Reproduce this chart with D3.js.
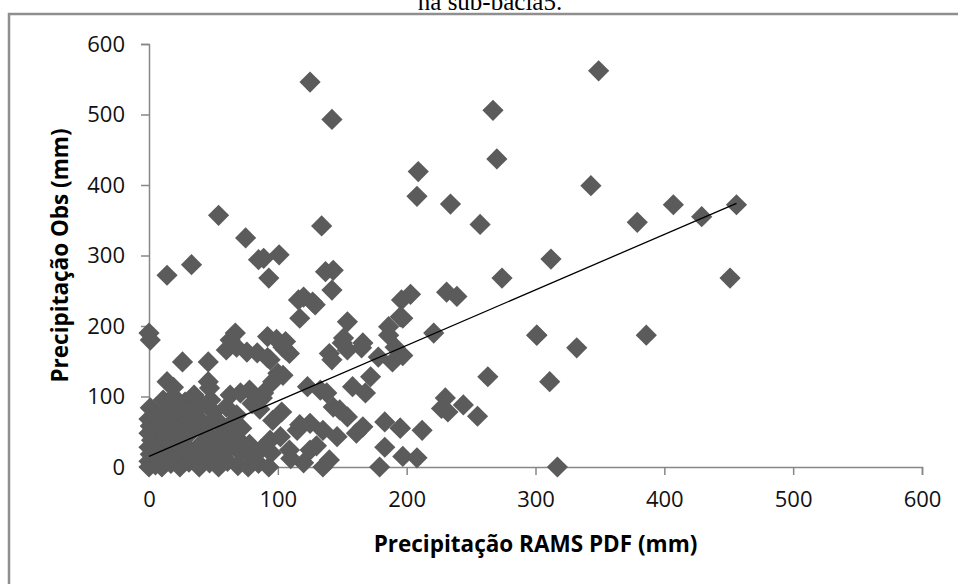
<!DOCTYPE html>
<html>
<head>
<meta charset="utf-8">
<script src="https://cdn.jsdelivr.net/npm/d3@7"></script>
<style>
  body { margin: 0; background: #fff; }
  svg { display: block; }
</style>
</head>
<body>
<svg id="drawing_region"></svg>
<script>
const rams = [
    0, 0, 1, 0, 1, 0, 2, 0, 1, 0, 1,
    5, 6, 5, 4, 6, 5,
    10, 11, 9, 12, 10, 13, 11,
    17, 18, 16, 19, 18, 20, 19,
    24, 26, 25, 27, 24, 26, 28,
    31, 33, 32, 34, 30, 35,
    39, 41, 40, 42, 38, 41,
    47, 49, 48, 46, 50, 48,
    54, 56, 55, 57, 53,
    61, 63, 62, 64, 60,
    69, 71, 70, 72, 68,
    77, 79, 78, 80,
    85, 87, 86, 88,
    93, 95, 94, 96,
    102, 109, 115, 120, 125, 125, 135, 135, 146, 103, 110, 130, 140, 117,
    143, 148, 154, 161, 166, 183, 195, 183, 179, 197, 208, 212,
    227, 232, 230, 244, 255,
    123, 133, 158, 172, 168, 104, 138, 100,
    104, 109, 94, 106, 140, 142, 150, 154, 165, 178, 191, 189, 197, 186,
    14, 19, 46, 47, 26, 46, 63, 71, 78, 89, 96,
    60, 68, 76, 84, 92, 67, 63, 92, 99, 106,
    14, 33, 54, 75, 85, 89, 101, 93,
    117, 116, 127, 129, 120, 134, 137, 143, 142, 154, 151, 166,
    196, 203, 195, 186, 221, 231, 239, 197, 195,
    125, 142, 267, 270, 209, 208, 234, 257, 274, 301, 312,
    349, 343, 379, 407, 429, 456, 451,
    301, 332, 386, 311, 317, 263
];
const obs = [
    0, 190, 180, 8, 18, 28, 38, 48, 58, 68, 84,
    3, 15, 25, 42, 55, 70,
    0, 12, 30, 45, 62, 78, 95,
    5, 20, 35, 52, 68, 85, 100,
    0, 14, 28, 40, 58, 75, 92,
    7, 22, 48, 62, 80, 102,
    0, 16, 32, 55, 70, 88,
    6, 24, 42, 60, 78, 95,
    0, 14, 35, 50, 66,
    8, 28, 45, 62, 85,
    2, 20, 38, 55, 74,
    0, 14, 32, 90,
    5, 25, 82, 98,
    0, 20, 38, 66,
    43, 24, 52, 6, 24, 62, 0, 52, 43, 78, 12, 30, 10, 60,
    85, 81, 71, 48, 57, 64, 55, 28, 0, 15, 13, 52,
    83, 78, 98, 88, 72,
    114, 109, 114, 128, 105, 130, 105, 133,
    170, 161, 152, 166, 161, 152, 176, 166, 169, 156, 170, 149, 158, 187,
    121, 113, 149, 112, 149, 121, 102, 105, 109, 105, 121,
    166, 170, 163, 162, 155, 190, 180, 185, 181, 178,
    272, 287, 357, 325, 294, 296, 301, 268,
    211, 237, 234, 230, 241, 342, 277, 279, 251, 206, 183, 176,
    237, 245, 213, 199, 190, 248, 242, 211, 55,
    546, 493, 506, 437, 419, 384, 373, 344, 268, 187, 295,
    562, 399, 347, 372, 355, 372, 268,
    187, 169, 187, 121, 0, 128
];
// fitted trend line, end points
const trendX = [0, 456];
const trendY = [15, 374];

const xTicks = [0, 100, 200, 300, 400, 500, 600];
const yTicks = [0, 100, 200, 300, 400, 500, 600];

const xLabel = 'Precipitação RAMS PDF (mm)';
const yLabel = 'Precipitação Obs (mm)';
const caption = 'na sub-bacia5.';

class ScatterPlot {

    constructor(config, data) {
        this.config = config;
        this.data = data;
        this.init();
    }

    init() {
        let self = this;
        const c = self.config;

        self.svg = d3.select(c.parent)
            .attr('width', c.width)
            .attr('height', c.height);

        // caption line, cut off by the top of the page as in the source
        self.svg.append('text')
            .attr('x', 490)
            .attr('y', 10)
            .attr('text-anchor', 'middle')
            .attr('font-family', '"Liberation Serif", serif')
            .attr('font-size', 25)
            .text(caption);

        // chart frame
        self.svg.append('path')
            .attr('d', `M9,${c.height} V14 H${c.width}`)
            .attr('fill', 'none')
            .attr('stroke', '#8f8f8f')
            .attr('stroke-width', 2.5);

        self.xscale = d3.scaleLinear().domain([0, 600]).range([c.plot.left, c.plot.right]);
        self.yscale = d3.scaleLinear().domain([0, 600]).range([c.plot.bottom, c.plot.top]);

        self.xaxis = d3.axisBottom(self.xscale)
            .tickValues(xTicks)
            .tickSize(8)
            .tickPadding(20);

        self.yaxis = d3.axisLeft(self.yscale)
            .tickValues(yTicks)
            .tickSize(8)
            .tickPadding(16);

        self.xaxis_group = self.svg.append('g')
            .attr('transform', `translate(0, ${c.plot.bottom})`);
        self.yaxis_group = self.svg.append('g')
            .attr('transform', `translate(${c.plot.left}, 0)`);

        self.chart = self.svg.append('g');
    }

    update() {
        this.render();
    }

    render() {
        let self = this;
        const font = '"Open Sans", sans-serif';

        [self.xaxis_group.call(self.xaxis), self.yaxis_group.call(self.yaxis)].forEach(g => {
            g.select('.domain').attr('stroke', '#878787').attr('stroke-width', 1.5);
            g.selectAll('.tick line').attr('stroke', '#878787').attr('stroke-width', 1.5);
            g.selectAll('.tick text')
                .attr('fill', '#111')
                .attr('font-family', font)
                .attr('font-size', 22);
        });
        self.xaxis_group.selectAll('.tick text').attr('dy', '0.55em');

        const diamond = d3.symbol().type(d3.symbolSquare).size(225);
        self.chart.selectAll('path.pt')
            .data(self.data)
            .join('path')
            .attr('class', 'pt')
            .attr('d', diamond)
            .attr('transform', d => `translate(${self.xscale(d.x)}, ${self.yscale(d.y)}) rotate(45)`)
            .attr('fill', '#5b5b5b');

        self.chart.append('line')
            .attr('x1', self.xscale(trendX[0]))
            .attr('y1', self.yscale(trendY[0]))
            .attr('x2', self.xscale(trendX[1]))
            .attr('y2', self.yscale(trendY[1]))
            .attr('stroke', '#000')
            .attr('stroke-width', 1.3);

        self.svg.append('text')
            .attr('x', (self.config.plot.left + self.config.plot.right) / 2)
            .attr('y', 552)
            .attr('text-anchor', 'middle')
            .attr('font-family', font)
            .attr('font-weight', 'bold')
            .attr('font-size', 22.5)
            .text(xLabel);

        self.svg.append('text')
            .attr('transform', `translate(68, ${(self.config.plot.top + self.config.plot.bottom) / 2}) rotate(-90)`)
            .attr('text-anchor', 'middle')
            .attr('font-family', font)
            .attr('font-weight', 'bold')
            .attr('font-size', 22.5)
            .text(yLabel);
    }
}

const data = rams.map((x, i) => ({ x: x, y: obs[i] }));

const config = {
    parent: '#drawing_region',
    width: 958,
    height: 584,
    plot: { left: 149, right: 922, top: 44, bottom: 467 }
};

const scatter_plot = new ScatterPlot(config, data);
scatter_plot.update();
</script>
</body>
</html>
